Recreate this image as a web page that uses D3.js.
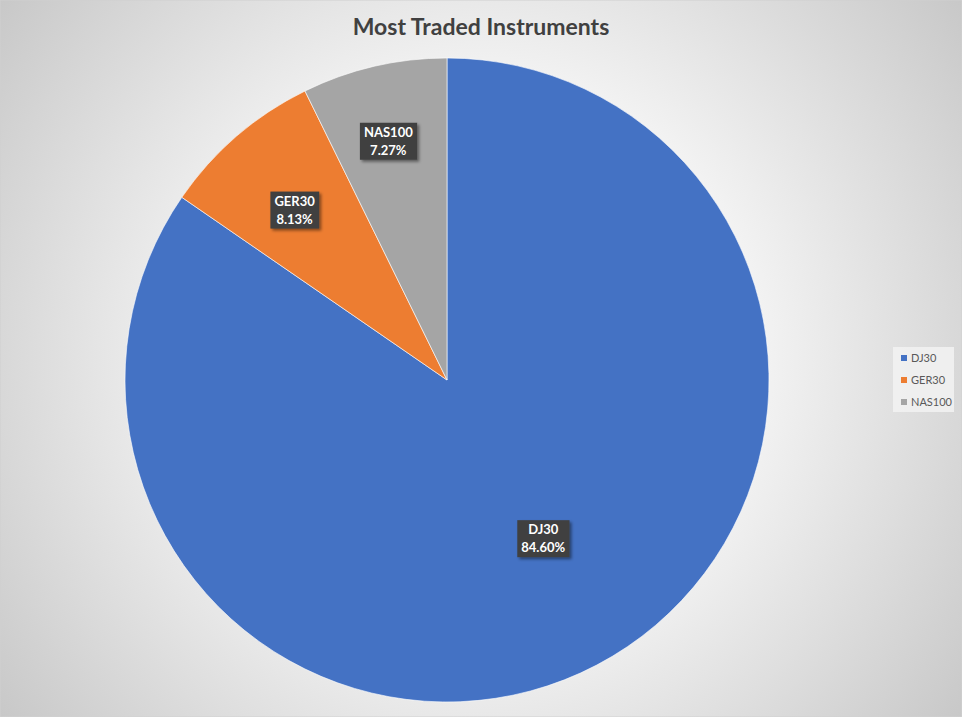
<!DOCTYPE html>
<html>
<head>
<meta charset="utf-8">
<script src="https://cdn.jsdelivr.net/npm/d3@7"></script>
<style>
  html, body { margin: 0; padding: 0; overflow: hidden; }
  svg { display: block; }
</style>
</head>
<body>
<svg id="chart"></svg>
<script>
var instruments = ["DJ30", "GER30", "NAS100"];
var shares = [84.60, 8.13, 7.27];
var sliceColors = ["#4472c4", "#ed7d31", "#a5a5a5"];

// label placement: distance as fraction of radius, and angle nudge in degrees (excel's best fit)
var labelRadius = [0.575, 0.71, 0.765];
var labelNudge = [-3.6, -1, -0.7];

var width = 962, height = 717;
var cx = 447, cy = 380, radius = 322;

var svg = d3.select('#chart')
	.attr('width', width)
	.attr('height', height)
	.style('font-family', 'Lato, "Open Sans", sans-serif');

var defs = svg.append('defs');

var bg = defs.append('radialGradient')
	.attr('id', 'bg')
	.attr('gradientUnits', 'userSpaceOnUse')
	.attr('cx', 481).attr('cy', 358).attr('r', 600);
bg.append('stop').attr('offset', '0%').attr('stop-color', '#ffffff');
bg.append('stop').attr('offset', '45%').attr('stop-color', '#f4f4f4');
bg.append('stop').attr('offset', '100%').attr('stop-color', '#c8c8c8');

var shadow = defs.append('filter').attr('id', 'shadow')
	.attr('x', '-20%').attr('y', '-20%').attr('width', '150%').attr('height', '150%');
shadow.append('feDropShadow')
	.attr('dx', 2).attr('dy', 2).attr('stdDeviation', 1.5)
	.attr('flood-color', '#000').attr('flood-opacity', 0.45);

svg.append('rect')
	.attr('width', width).attr('height', height)
	.attr('fill', 'url(#bg)')
	.attr('stroke', '#d0d0d0');

svg.append('text')
	.attr('x', 481).attr('y', 35)
	.attr('text-anchor', 'middle')
	.style('font-size', '23px')
	.style('font-weight', 'bold')
	.style('fill', '#404040')
	.text('Most Traded Instruments');

var data = instruments.map(function(d, i){
	return { name: d, value: shares[i], color: sliceColors[i], lr: labelRadius[i], nudge: labelNudge[i] };
});

var pie = d3.pie().sort(null).value(function(d){ return d.value; });
var arc = d3.arc().innerRadius(0).outerRadius(radius);

var g = svg.append('g').attr('transform', 'translate(' + cx + ',' + cy + ')');

var arcs = pie(data);

g.selectAll('path')
	.data(arcs)
	.enter()
	.append('path')
		.attr('d', arc)
		.attr('fill', function(d){ return d.data.color; })
		.attr('stroke', '#ffffff')
		.attr('stroke-width', 0.6);

// data labels
var labels = g.selectAll('g.lbl')
	.data(arcs)
	.enter()
	.append('g')
		.attr('class', 'lbl')
		.attr('transform', function(d){
			var a = (d.startAngle + d.endAngle) / 2 + d.data.nudge * Math.PI / 180;
			var r = radius * d.data.lr;
			return 'translate(' + (Math.sin(a) * r) + ',' + (-Math.cos(a) * r) + ')';
		});

labels.each(function(d){
	var lg = d3.select(this);
	var box = lg.append('rect')
		.attr('fill', '#404040')
		.attr('filter', 'url(#shadow)');
	var t = lg.append('text')
		.attr('text-anchor', 'middle')
		.style('font-size', '13px')
		.style('font-weight', 'bold')
		.style('fill', '#ffffff');
	t.append('tspan').attr('x', 0).attr('y', -4).text(d.data.name);
	t.append('tspan').attr('x', 0).attr('y', 14).text(d.data.value.toFixed(2) + '%');
	var bb = t.node().getBBox();
	box.attr('x', bb.x - 4).attr('y', -18)
		.attr('width', bb.width + 8).attr('height', 37);
});

// legend
var legend = svg.append('g').attr('transform', 'translate(893,347)');
legend.append('rect')
	.attr('width', 61).attr('height', 65)
	.attr('fill', '#f2f2f2').attr('fill-opacity', 0.85);

var items = legend.selectAll('g.item')
	.data(data)
	.enter()
	.append('g')
		.attr('class', 'item')
		.attr('transform', function(d, i){ return 'translate(8,' + (8 + i * 22) + ')'; });

items.append('rect')
	.attr('width', 6).attr('height', 6)
	.attr('fill', function(d){ return d.color; });

items.append('text')
	.attr('x', 10).attr('y', 7)
	.style('font-size', '11px')
	.style('fill', '#595959')
	.text(function(d){ return d.name; });
</script>
</body>
</html>
